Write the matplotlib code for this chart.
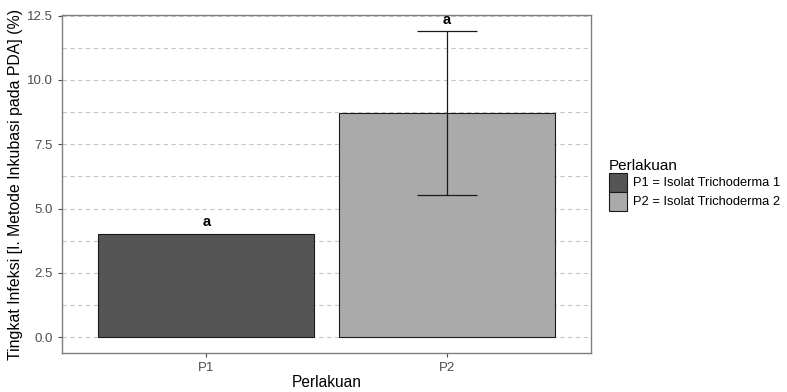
import matplotlib
matplotlib.use("Agg")
import matplotlib.pyplot as plt
from matplotlib.patches import Patch

plt.rcParams['font.family'] = ['Liberation Sans', 'DejaVu Sans']

treatments = ["P1", "P2"]
means = [4.01, 8.71]
sds = [0.0, 3.17]
letters = ["a", "a"]
legend_labels = ["P1 = Isolat Trichoderma 1", "P2 = Isolat Trichoderma 2"]
colors = ["#555555", "#AAAAAA"]
y_ticks = [0.0, 2.5, 5.0, 7.5, 10.0, 12.5]
minor_ticks = [1.25, 3.75, 6.25, 8.75, 11.25]

fig = plt.figure(figsize=(7.87, 3.92), dpi=100)
ax = fig.add_axes([62 / 787, 1 - 353 / 392, 529 / 787, 338 / 392])

x = [1, 2]
for yv in y_ticks + minor_ticks:
    ax.axhline(yv, color="#c8c8c8", lw=0.8, ls=(0, (4, 3)), zorder=0)

ax.bar(x, means, width=0.9, color=colors, edgecolor="#1a1a1a", linewidth=0.8, zorder=2)
for xi, m, s in zip(x, means, sds):
    if s > 0:
        ax.errorbar(xi, m, yerr=s, color="#1a1a1a", lw=0.9, capsize=21.5, capthick=0.9, zorder=3)

for xi, m, s, lab in zip(x, means, sds, letters):
    ax.text(xi, m + s + 0.18, lab, ha="center", va="bottom", fontsize=10.5,
            fontweight="bold", color="black", zorder=4)

ax.set_xlim(0.4, 2.6)
ax.set_ylim(-0.61, 12.52)
ax.set_xticks(x)
ax.set_xticklabels(treatments)
ax.set_yticks(y_ticks)
ax.set_yticklabels(["%.1f" % v for v in y_ticks])
ax.tick_params(colors="#4d4d4d", labelsize=9.5, length=3, width=0.8, labelcolor="#4d4d4d")

for sp in ax.spines.values():
    sp.set_color("#7f7f7f")
    sp.set_linewidth(1.0)

ax.set_xlabel("Perlakuan", fontsize=11.2, color="black", labelpad=1)
ax.set_ylabel("Tingkat Infeksi [I. Metode Inkubasi pada PDA] (%)", fontsize=11.4, color="black", labelpad=3)

handles = [Patch(facecolor=c, edgecolor="#1a1a1a", linewidth=0.8) for c in colors]
leg = fig.legend(handles, legend_labels, title="Perlakuan", loc="upper left",
                 bbox_to_anchor=(606 / 787, 1 - 156 / 392), frameon=False,
                 fontsize=9.3, title_fontsize=11, handlelength=1.4, handleheight=1.9,
                 handletextpad=0.5, labelspacing=0.0, borderaxespad=0, borderpad=0.2)
leg._legend_box.align = "left"

fig.savefig("out.png", dpi=100)
